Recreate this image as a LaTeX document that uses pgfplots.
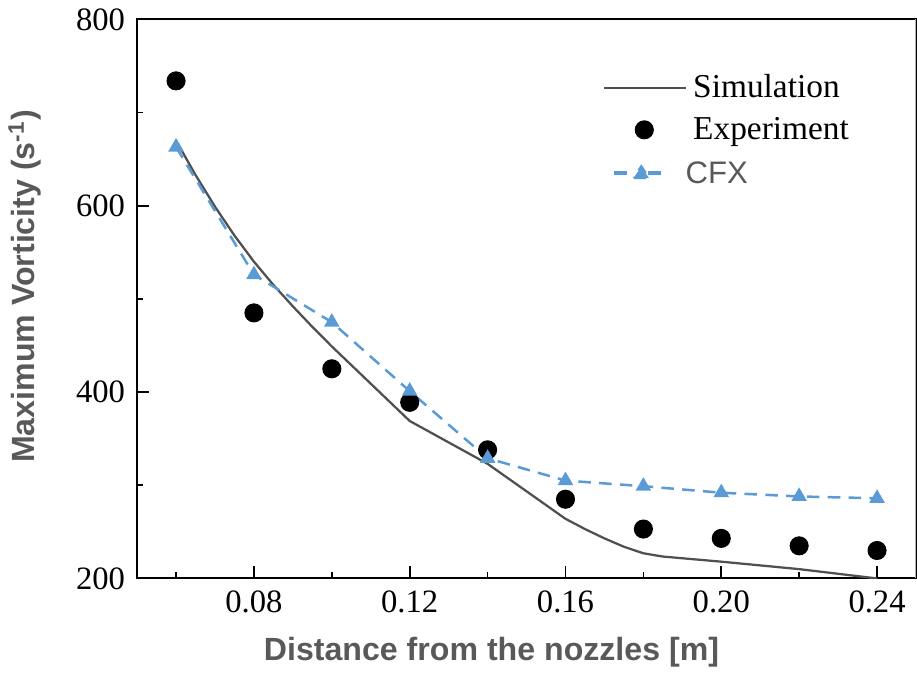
\documentclass[border=0pt]{standalone}
\usepackage{pgfplots}
\pgfplotsset{compat=1.18}
\usepackage{fontspec}
\setmainfont{Liberation Serif}
\newfontfamily\arial{Liberation Sans}
\definecolor{cfxblue}{HTML}{5B9BD5}
\definecolor{labgray}{HTML}{595959}
\definecolor{simgray}{HTML}{505050}
\begin{document}
\begin{tikzpicture}
\begin{axis}[
  scale only axis,
  width=310.4pt, height=222.8pt,
  xmin=0.05, xmax=0.25, ymin=200, ymax=800,
  xtick={0.08,0.12,0.16,0.20,0.24},
  xticklabels={0.08,0.12,0.16,0.20,0.24},
  minor xtick={0.06,0.10,0.14,0.18,0.22},
  ytick={200,400,600,800},
  minor ytick={300,500,700},
  tick align=inside,
  tick pos=left,
  major tick length=4.8pt,
  minor tick length=2.4pt,
  every tick/.style={black, line width=0.7pt},
  axis line style={black, line width=0.8pt},
  /pgf/number format/assume math mode=true,
  ticklabel style={font=\fontsize{13}{15}\selectfont, text=black},
  xticklabel style={yshift=-1.5pt},
  yticklabel style={xshift=-1.3pt},
  xlabel={\arial\bfseries Distance from the nozzles [m]},
  ylabel={\arial\bfseries Maximum Vorticity (s\textsuperscript{-1})},
  label style={font=\fontsize{12.8}{14}\selectfont, text=labgray},
  xlabel style={at={(axis description cs:0.455,0)}, anchor=base, yshift=-32.8pt},
  ylabel style={at={(axis description cs:-0.1314,0.522)}, anchor=base, rotate=0},
  legend style={draw=none, fill=none, inner sep=0pt, outer sep=0pt,
    at={(0.598,0.906)}, anchor=north west,
    font=\fontsize{13.3}{15}\selectfont, row sep=4.2pt, column sep=1.2pt,
    nodes={inner sep=1pt}},
  legend cell align=left,
]
\addplot[simgray, line width=0.9pt,
  legend image code/.code={\draw[simgray, line width=1pt] (0pt,0pt) -- (32.8pt,0pt);}]
  coordinates {(0.06,670) (0.065,633) (0.07,599) (0.075,568) (0.08,540) (0.085,515)
  (0.09,492) (0.095,470) (0.10,449) (0.105,429) (0.11,409) (0.115,389) (0.12,369)
  (0.14,323) (0.16,264) (0.165,253) (0.17,243) (0.175,234) (0.18,227) (0.185,223.5)
  (0.20,218) (0.22,210) (0.24,200)};
\addlegendentry{Simulation}
\addplot[only marks, mark=*, mark size=3.6pt, black,
  legend image code/.code={\draw[black, fill=black] (16pt,0pt) circle (3.6pt);}]
  coordinates {(0.06,734) (0.08,485) (0.10,425) (0.12,389) (0.14,338) (0.16,285)
  (0.18,253) (0.20,243) (0.22,235) (0.24,230)};
\addlegendentry{Experiment}
\addplot[cfxblue, line width=1pt, dash pattern=on 5pt off 3.3pt, mark=triangle*, mark size=2.6pt,
  mark options={solid},
  legend image code/.code={\draw[cfxblue, line width=1.6pt] (4pt,0pt) -- (10.7pt,0pt);
    \draw[cfxblue, line width=1.6pt] (17.6pt,0pt) -- (24pt,0pt);
    \fill[cfxblue] (11.8pt,-1.9pt) -- (17.8pt,-1.9pt) -- (14.8pt,2.6pt) -- cycle;}]
  coordinates {(0.06,663) (0.08,526) (0.10,475) (0.12,401) (0.14,329) (0.16,305)
  (0.18,299) (0.20,292) (0.22,288) (0.24,286)};
\addlegendentry{\hspace*{-3pt}\rule{0pt}{10.2pt}\arial\fontsize{12.4}{14}\selectfont\color{labgray}CFX}
\draw[black, line width=0.8pt] (rel axis cs:0,1) -- (rel axis cs:1,1);
\draw[black!30, line width=0.6pt] (rel axis cs:1,0) -- (rel axis cs:1,1);
\end{axis}
\end{tikzpicture}
\end{document}
